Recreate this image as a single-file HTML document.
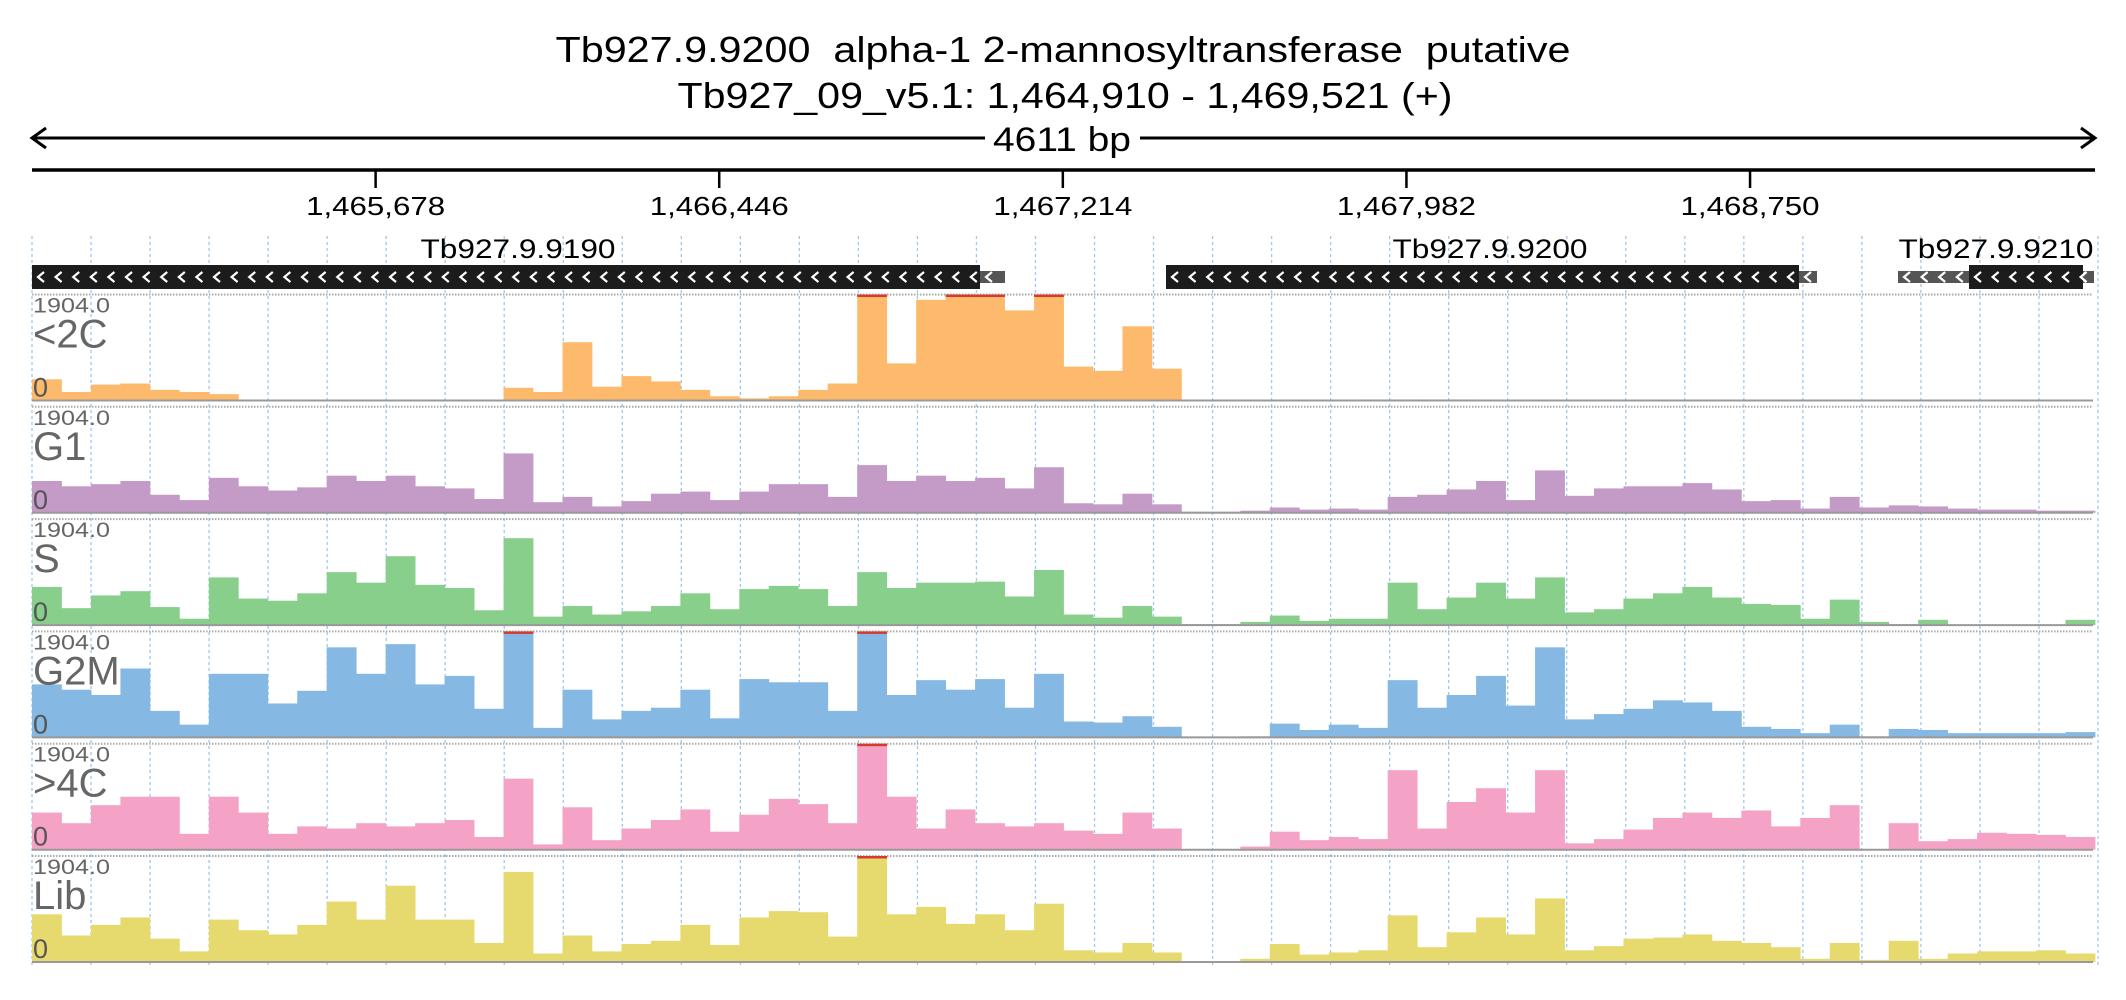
<!DOCTYPE html>
<html><head><meta charset="utf-8">
<style>
html,body{margin:0;padding:0;background:#fff;}
svg{display:block;font-family:"Liberation Sans",sans-serif;}
</style></head>
<body>
<svg id="chart" width="2126" height="1000" viewBox="0 0 2126 1000" xmlns="http://www.w3.org/2000/svg">
  <text x="1063" y="62" text-anchor="middle" font-size="36" textLength="1015" lengthAdjust="spacingAndGlyphs" fill="#000" xml:space="preserve">Tb927.9.9200  alpha-1 2-mannosyltransferase  putative</text>
  <text x="1065" y="108" text-anchor="middle" font-size="36" textLength="775" lengthAdjust="spacingAndGlyphs" fill="#000">Tb927_09_v5.1: 1,464,910 - 1,469,521 (+)</text>
  <g stroke="#000" stroke-width="3" fill="none">
    <line x1="32" y1="138" x2="985" y2="138"/>
    <line x1="1140" y1="138" x2="2095" y2="138"/>
    <polyline points="46,128 32,138 46,148"/>
    <polyline points="2081,128 2095,138 2081,148"/>
  </g>
  <text x="1062" y="151" text-anchor="middle" font-size="34" textLength="138" lengthAdjust="spacingAndGlyphs">4611 bp</text>
  <line x1="32" y1="170" x2="2095" y2="170" stroke="#000" stroke-width="3.5"/>
  <g id="ticks"></g>
  <g id="grid"></g>
  <g id="genes"></g>
  <g id="tracks"></g>
</svg>
<script>
// ---- data ----
const regionStart = 1464910;
const regionEnd = 1469521;
const tickValues = [1465678, 1466446, 1467214, 1467982, 1468750];
const tickLabels = ["1,465,678", "1,466,446", "1,467,214", "1,467,982", "1,468,750"];
const geneNames = ["Tb927.9.9190", "Tb927.9.9200", "Tb927.9.9210"];
const trackNames = ["<2C", "G1", "S", "G2M", ">4C", "Lib"];
const trackMax = "1904.0";
const cov2C = [20,8,15,16,10,8,6,0,0,0,0,0,0,0,0,0,12,8,55,13,23,18,10,4,2,4,10,16,100,35,95,100,100,85,100,32,28,70,30,0,0,0,0,0,0,1,1,1,1,0,0,0,0,0,0,0,0,0,0,0,0,0,0,0,0,0,0,0,0,0];
const covG1 = [30,25,27,30,17,12,33,25,21,24,35,30,35,25,23,13,56,10,15,6,11,18,20,12,20,27,27,15,45,30,35,30,33,23,43,9,8,18,8,1,1,2,5,3,4,3,15,17,22,30,12,40,16,23,25,25,28,22,11,12,4,15,5,7,6,4,3,3,2,2];
const covS = [36,16,28,32,17,6,45,25,23,30,50,40,65,38,35,14,82,8,18,10,13,18,30,15,34,37,34,18,50,35,40,40,41,27,52,10,7,18,8,1,1,3,9,4,6,6,40,15,26,40,25,45,12,15,25,30,36,26,20,19,6,24,3,1,5,0,0,0,0,5];
const covG2M = [50,45,40,65,25,12,60,60,32,44,85,60,88,50,58,27,100,9,45,17,25,28,45,18,55,52,52,25,100,40,54,45,55,28,60,15,14,20,10,0,0,1,13,7,12,9,54,28,40,58,30,85,17,22,27,35,33,25,10,8,4,12,1,8,7,4,4,4,4,5];
const cov4C = [35,25,42,50,50,15,50,35,15,22,20,25,22,25,28,12,67,5,40,9,20,28,38,17,33,48,43,25,100,50,20,38,25,22,25,18,15,35,20,0,0,3,17,9,12,10,75,20,45,58,35,75,6,10,19,30,35,30,37,22,30,42,0,25,8,10,16,15,14,12];
const covLib = [45,25,35,42,22,10,40,30,26,35,57,40,72,40,40,18,85,8,25,10,17,20,35,16,42,48,47,24,100,45,52,36,45,30,55,11,9,18,9,0,0,3,17,7,9,11,44,14,28,42,26,60,11,15,22,23,26,20,18,14,3,18,2,20,3,8,10,10,11,8];
const trackData = [cov2C, covG1, covS, covG2M, cov4C, covLib];
const trackColors = ["#fdba6c", "#c49ac7", "#88cf8b", "#85b9e3", "#f5a2c7", "#e6da6e"];

// ---- layout ----
const NS = "http://www.w3.org/2000/svg";
const X0 = 32, X1 = 2095;
const xScale = bp => X0 + (bp - regionStart) / (regionEnd - regionStart) * (X1 - X0);
const trackTop = i => 294.5 + i * 112.3;
const TRACK_H = 106;
function mk(tag, attrs, parent) {
  const e = document.createElementNS(NS, tag);
  for (const k in attrs) e.setAttribute(k, attrs[k]);
  parent.appendChild(e);
  return e;
}

// ticks
const tg = document.getElementById("ticks");
tickValues.forEach((v, i) => {
  const x = xScale(v);
  const l = mk("line", {x1: x, y1: 170, x2: x, y2: 188, stroke: "#000", "stroke-width": 2.5}, tg);
  
  
  const t = mk("text", {x: x, y: 215, "text-anchor": "middle", "font-size": 26, textLength: 139, lengthAdjust: "spacingAndGlyphs"}, tg);
  t.textContent = tickLabels[i];
  
  
});

// grid
const gg = document.getElementById("grid");
const nGrid = 35;
for (let k = 0; k <= nGrid; k++) {
  const x = X0 + k * (X1 + 3 - X0) / nGrid;
  const l = mk("line", {x1: x, y1: 236, x2: x, y2: 966, stroke: "#9cc9ee", "stroke-width": 1.3, "stroke-dasharray": "3,3"}, gg);
  
  
}

// genes
const gn = document.getElementById("genes");
function chevrons(x1, x2, yc, parent) {
  for (let x = x1 + 6; x < x2 - 8; x += 17.6) {
    const p = mk("polyline", {points: `${x+6},${yc-5} ${x},${yc} ${x+6},${yc+5}`, stroke: "#fff", "stroke-width": 2.2, fill: "none"}, parent);
    
    
  }
}
const geneBoxes = [
  {cds: [32, 980], utr: [980, 1005], label: 518},
  {cds: [1166, 1799], utr: [1799, 1817], label: 1490},
  {cds: [1969, 2083], utr: [1898, 2094], label: 1996}
];
geneBoxes.forEach((g, i) => {
  const grp = mk("g", {}, gn);
  
  
  const u = mk("rect", {x: g.utr[0], y: 271, width: g.utr[1] - g.utr[0], height: 12, fill: "#555"}, grp);
  
  
  chevrons(g.utr[0], g.utr[1], 277, grp);
  const c = mk("rect", {x: g.cds[0], y: 265, width: g.cds[1] - g.cds[0], height: 24, fill: "#1c1c1c"}, grp);
  
  
  chevrons(g.cds[0], g.cds[1] + 8, 277, grp);
  const t = mk("text", {x: g.label, y: 258, "text-anchor": "middle", "font-size": 27, textLength: 195, lengthAdjust: "spacingAndGlyphs"}, grp);
  t.textContent = geneNames[i];
  
  
});

// tracks
const tr = document.getElementById("tracks");
trackData.forEach((vals, ti) => {
  const top = trackTop(ti), base = top + TRACK_H;
  const grp = mk("g", {}, tr);
  
  
  const tl = mk("line", {x1: X0, y1: top, x2: 2093, y2: top, stroke: "#aaa", "stroke-width": 2, "stroke-dasharray": "1.5,1.5"}, grp);
  
  
  const bw = (X1 - X0) / vals.length;
  vals.forEach((v, i) => {
    if (v <= 0) return;
    const h = Math.min(v, 100) / 100 * TRACK_H;
    const r = mk("rect", {x: X0 + i * bw, y: base - h, width: bw + 0.4, height: h, fill: trackColors[ti]}, grp);
    
    
    if (v >= 100) {
      const c = mk("rect", {x: X0 + i * bw, y: top, width: bw + 0.4, height: 2.5, fill: "#d63a2e"}, grp);
      
      
    }
  });
  const bl = mk("line", {x1: X0, y1: base, x2: 2093, y2: base, stroke: "#999", "stroke-width": 2}, grp);
  
  
  const mx = mk("text", {x: 33, y: top + 18, "font-size": 21, fill: "#666", textLength: 77, lengthAdjust: "spacingAndGlyphs"}, grp);
  mx.textContent = trackMax;
  
  
  const nm = mk("text", {x: 33, y: top + 53, "font-size": 40, fill: "#666"}, grp);
  nm.textContent = trackNames[ti];
  
  
  const z = mk("text", {x: 33, y: base - 4, "font-size": 27, fill: "#555"}, grp);
  z.textContent = "0";
  
  
});
</script>
</body></html>
